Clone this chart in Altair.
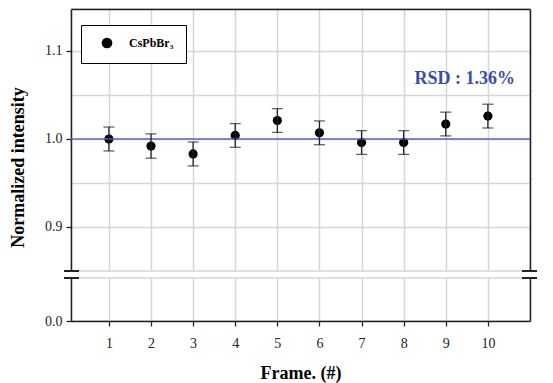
import altair as alt
import pandas as pd

# ---------------- data ----------------
frames = [1, 2, 3, 4, 5, 6, 7, 8, 9, 10]
intensity = [1.000, 0.992, 0.983, 1.004, 1.021, 1.007, 0.996, 0.996, 1.017, 1.026]
errors = [0.0136, 0.0138, 0.0136, 0.0135, 0.0135, 0.0135, 0.0135, 0.0135, 0.0135, 0.0135]
series_name = "CsPbBr\u2083"
reference_level = [1.0]
rsd_label = ["RSD : 1.36%"]
rsd_pos_x = [9.45]
rsd_pos_y = [1.068]
y_labels_top = [0.9, 1.0, 1.1]
y_grid_top = [0.9, 0.95, 1.0, 1.05, 1.1]
y_labels_bottom = [0.0]
x_tick_values = frames

df = pd.DataFrame({
    "frame": frames,
    "intensity": intensity,
    "lo": [v - e for v, e in zip(intensity, errors)],
    "hi": [v + e for v, e in zip(intensity, errors)],
    "series": [series_name] * len(frames),
})
ref_df = pd.DataFrame({"y": reference_level})
txt_df = pd.DataFrame({"x": rsd_pos_x, "y": rsd_pos_y, "t": rsd_label})
one = pd.DataFrame({"k": [0]})

# ---------------- style ----------------
W = 459
H_TOP = 262
H_BOT = 43
SERIF = "Liberation Serif"
GRID = "#d6d6d6"
AX = "#222222"

x_scale = alt.Scale(domain=[0.1, 11], nice=False, zero=False)
y_top_scale = alt.Scale(domain=[0.85, 1.1477], nice=False, zero=False)
y_bot_scale = alt.Scale(domain=[0.0, 0.05], nice=False, zero=False)

# ---------- top panel ----------
pts_top = alt.Chart(df).mark_circle(size=85, opacity=1).encode(
    x=alt.X("frame:Q", scale=x_scale,
            axis=alt.Axis(orient="bottom", values=x_tick_values, grid=True, gridColor=GRID,
                          gridWidth=1.5, labels=False, ticks=False, domain=False, title=None)),
    y=alt.Y("intensity:Q", scale=y_top_scale,
            axis=alt.Axis(orient="left", values=y_labels_top, format=".1f", grid=False,
                          tickSize=5, tickColor=AX, domainColor=AX, labelPadding=4,
                          title="Normalized intensity", titleAngle=270, titleX=-44, titleY=158,
                          titleAlign="center", titleBaseline="bottom")),
    color=alt.Color("series:N", scale=alt.Scale(range=["black"]),
                    legend=alt.Legend(orient="none", legendX=10, legendY=16, title=None,
                                      strokeColor="black", fillColor="white", padding=12,
                                      symbolType="circle", symbolSize=85,
                                      symbolFillColor="black", symbolStrokeColor="black",
                                      symbolOffset=8, labelOffset=16, labelFont=SERIF,
                                      labelFontWeight="bold", labelFontSize=12,
                                      labelColor="black", cornerRadius=0)),
)

ref_line = alt.Chart(ref_df).mark_rule(color="#5366c2", strokeWidth=1.5).encode(
    y=alt.Y("y:Q", scale=y_top_scale,
            axis=alt.Axis(orient="right", values=y_grid_top, grid=True, gridColor=GRID,
                          gridWidth=1.5, labels=False, ticks=False, domainColor=AX,
                          title=None)),
)

err_rule = alt.Chart(df).mark_rule(color=AX, strokeWidth=1.3).encode(
    x=alt.X("frame:Q", scale=x_scale,
            axis=alt.Axis(orient="top", grid=False, labels=False, ticks=False,
                          domainColor=AX, title=None)),
    y=alt.Y("lo:Q", scale=y_top_scale, axis=None),
    y2="hi:Q",
)
cap_lo = alt.Chart(df).mark_tick(color=AX, orient="horizontal", size=11, thickness=1.3).encode(
    x=alt.X("frame:Q", scale=x_scale, axis=None), y=alt.Y("lo:Q", scale=y_top_scale, axis=None))
cap_hi = alt.Chart(df).mark_tick(color=AX, orient="horizontal", size=11, thickness=1.3).encode(
    x=alt.X("frame:Q", scale=x_scale, axis=None), y=alt.Y("hi:Q", scale=y_top_scale, axis=None))

rsd_text = alt.Chart(txt_df).mark_text(font=SERIF, fontWeight="bold", fontSize=18,
                                       color="#3a4ea6", align="center", baseline="middle").encode(
    x=alt.X("x:Q", scale=x_scale, axis=None), y=alt.Y("y:Q", scale=y_top_scale, axis=None),
    text="t:N")

brk_top_l = alt.Chart(one).mark_rule(color=AX, strokeWidth=2).encode(
    x=alt.value(-7), x2=alt.value(8), y=alt.value(H_TOP))
brk_top_r = alt.Chart(one).mark_rule(color=AX, strokeWidth=2).encode(
    x=alt.value(W - 8), x2=alt.value(W + 7), y=alt.value(H_TOP))

top = alt.layer(pts_top, ref_line, err_rule, cap_lo, cap_hi, rsd_text, brk_top_l, brk_top_r).resolve_axis(
    x="independent", y="independent").properties(width=W, height=H_TOP)

# ---------- bottom panel ----------
pts_bot = alt.Chart(df).mark_circle(size=85, opacity=1, color="black", clip=True).encode(
    x=alt.X("frame:Q", scale=x_scale,
            axis=alt.Axis(orient="bottom", values=x_tick_values, grid=True, gridColor=GRID,
                          gridWidth=1.5, tickSize=5, tickColor=AX, domainColor=AX,
                          labelPadding=10, titlePadding=14, title="Frame. (#)")),
    y=alt.Y("intensity:Q", scale=y_bot_scale,
            axis=alt.Axis(orient="left", values=y_labels_bottom, format=".1f", grid=False,
                          tickSize=5, tickColor=AX, domainColor=AX, labelPadding=4, title=None)),
)
err_bot = alt.Chart(df).mark_rule(color=AX, clip=True).encode(
    x=alt.X("frame:Q", scale=x_scale, axis=None),
    y=alt.Y("lo:Q", scale=y_bot_scale,
            axis=alt.Axis(orient="right", values=y_labels_bottom, grid=False, labels=False,
                          ticks=False, domainColor=AX, title=None)),
    y2="hi:Q",
)
brk_bot_l = alt.Chart(one).mark_rule(color=AX, strokeWidth=2).encode(
    x=alt.value(-7), x2=alt.value(8), y=alt.value(0))
brk_bot_r = alt.Chart(one).mark_rule(color=AX, strokeWidth=2).encode(
    x=alt.value(W - 8), x2=alt.value(W + 7), y=alt.value(0))

bottom = alt.layer(pts_bot, err_bot, brk_bot_l, brk_bot_r).resolve_axis(
    x="independent", y="independent").properties(width=W, height=H_BOT)

chart = alt.vconcat(top, bottom, spacing=7, bounds="flush").resolve_legend(color="independent").properties(
    padding={"left": 0, "top": 0, "right": 0, "bottom": 0}
).configure_view(stroke=GRID, strokeWidth=1.5).configure_axis(
    labelFont=SERIF, labelFontSize=14, labelColor="#222", titleFont=SERIF,
    titleFontSize=18, titleFontWeight="bold", titleColor="black", domainWidth=1.5,
    tickWidth=1.3,
).configure_axisY(titleFontSize=18)

chart.save("out.html", embed_options={"renderer": "svg", "actions": False})
